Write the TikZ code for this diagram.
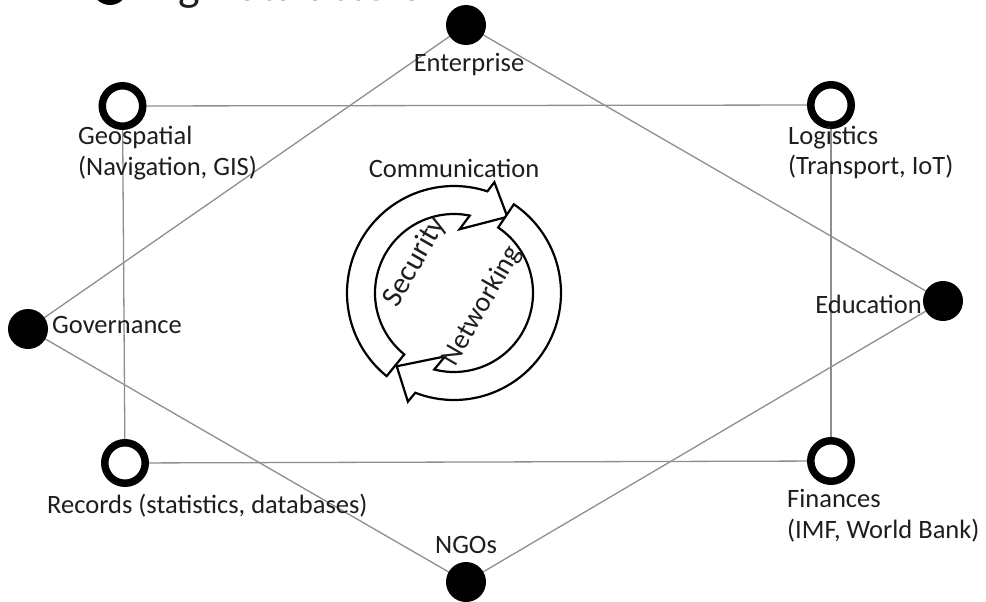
\documentclass[tikz,border=0pt]{standalone}
\usepackage{fontspec}
\setmainfont{Carlito}
\usetikzlibrary{backgrounds}
\definecolor{txt}{HTML}{1E1E1E}
\definecolor{edge}{HTML}{8E8E8E}
\begin{document}
\begin{tikzpicture}[x=1pt,y=-1pt,
  ring/.style={circle,draw=black,line width=7.5pt,fill=white,minimum size=40.5pt,inner sep=0pt},
  dot/.style={circle,fill=black,minimum size=40pt,inner sep=0pt},
  lab/.style={text=txt,font=\fontsize{26.5}{31}\selectfont,inner sep=0pt},
  conn/.style={draw=edge,line width=1.3pt},
  cyc/.style={draw=black,fill=white,line width=2.2pt,line join=miter}]
\useasboundingbox (0,0) rectangle (986,602);
\clip (0,0) rectangle (986,602);
% cut-off title
\fill[black] (110,-13) circle[radius=18];
\node[lab,font=\fontsize{46}{50}\selectfont,anchor=base west] (title) at (143,1) {Big Data actors};
% nodes
\node[dot] (ent) at (466,25) {};
\node[dot] (gov) at (28,329) {};
\node[dot] (edu) at (943,301) {};
\node[dot] (ngo) at (466,582) {};
\node[ring] (geo) at (122.5,106) {};
\node[ring] (log) at (831,105) {};
\node[ring] (rec) at (125,463) {};
\node[ring] (fin) at (831,461) {};
% connectors
\begin{pgfonlayer}{background}
\draw[conn] (ent.center) -- (gov.center);
\draw[conn] (ent.center) -- (edu.center);
\draw[conn] (gov.center) -- (ngo.center);
\draw[conn] (ngo.center) -- (edu.center);
\draw[conn] (geo.center) -- (log.center);
\draw[conn] (geo.center) -- (rec.center);
\draw[conn] (log.center) -- (fin.center);
\draw[conn] (rec.center) -- (fin.center);
\end{pgfonlayer}
% labels
\node[lab,anchor=base] (entl) at (469,72) {Enterprise};
\node[lab,anchor=base west] (geol1) at (78,144) {Geospatial};
\node[lab,anchor=base west] (geol2) at (78,175) {(Navigation, GIS)};
\node[lab,anchor=base west] (logl1) at (788,144) {Logistics};
\node[lab,anchor=base west] (logl2) at (788,174) {(Transport, IoT)};
\node[lab,anchor=base west] (govl) at (52,333) {Governance};
\node[lab,anchor=base east] (edul) at (922,313) {Education};
\node[lab,anchor=base west] (recl) at (47,513) {Records (statistics, databases)};
\node[lab,anchor=base] (ngol) at (466,553) {NGOs};
\node[lab,anchor=base west] (finl1) at (787,507) {Finances};
\node[lab,anchor=base west] (finl2) at (787,538) {(IMF, World Bank)};
% cycle arrows
\filldraw[cyc]
  plot[domain=129:288.2,samples=80] ({454+107*cos(\x)},{293+107*sin(\x)})
  -- ({454+118*cos(290)},{293+118*sin(290)})
  -- ({454+93*cos(305)},{293+93*sin(305)})
  -- ({454+64*cos(275)},{293+64*sin(275)})
  -- plot[domain=281.5:129,samples=80] ({454+79*cos(\x)},{293+79*sin(\x)})
  -- cycle;
\filldraw[cyc]
  plot[domain=304:471.2,samples=80] ({454+107*cos(\x)},{293+107*sin(\x)})
  -- ({454+118*cos(473)},{293+118*sin(473)})
  -- ({454+93*cos(488)},{293+93*sin(488)})
  -- ({454+64*cos(458)},{293+64*sin(458)})
  -- plot[domain=464.5:304,samples=80] ({454+79*cos(\x)},{293+79*sin(\x)})
  -- cycle;
\node[lab,anchor=base] (comm) at (454,177) {Communication};
\node[lab,font=\fontsize{30}{34}\selectfont,rotate=60] (sec) at (415,262) {Security};
\node[lab,font=\fontsize{28}{32}\selectfont,rotate=60] (net) at (482,306) {Networking};
\end{tikzpicture}
\end{document}
